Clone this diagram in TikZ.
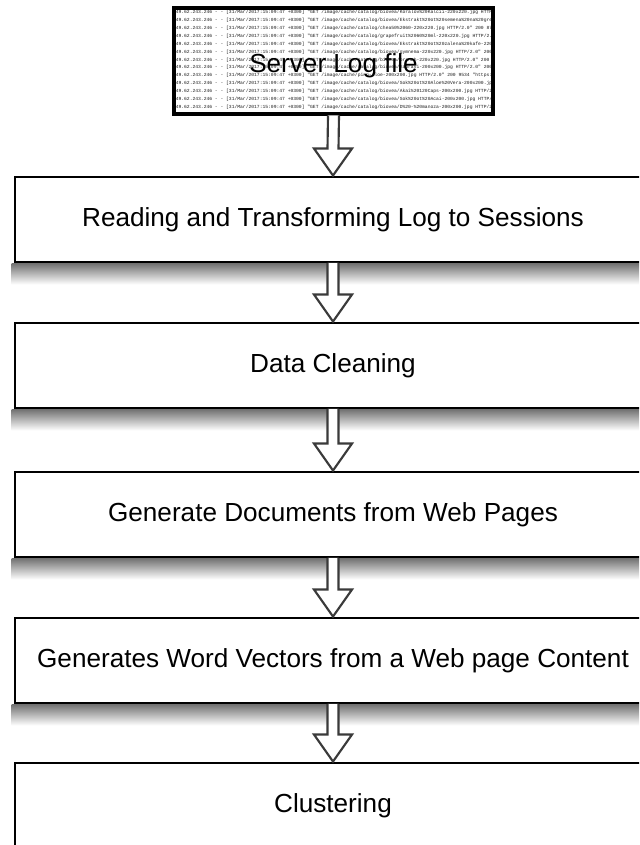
\documentclass[tikz,border=0pt]{standalone}
\usepackage{fontspec}
\setmainfont{Liberation Sans}
\setmonofont{Liberation Mono}
\usepackage{xcolor}
\usetikzlibrary{positioning,calc}

\definecolor{arrowgray}{HTML}{3A3A3A}
\definecolor{loggray}{HTML}{1E1E1E}

% shadow under a step box
\newcommand{\boxshadow}[1]{%
  \shade[top color=black!55,bottom color=white] ($(#1.south west)+(-2,0)$) rectangle ($(#1.south east)+(0,21)$);}
% hollow block arrow from one node to the next
\newcommand{\flowarrow}[2]{%
  \draw[blockarrow] ($(#1.south)+(-5.5,-0.5)$) -- ($(#2.north)+(-5.5,-27)$) -- ($(#2.north)+(-19,-27)$) -- (#2.north)
    -- ($(#2.north)+(19,-27)$) -- ($(#2.north)+(5.5,-27)$) -- ($(#1.south)+(5.5,-0.5)$);}

\begin{document}
\begin{tikzpicture}[x=0.75pt,y=-0.75pt,
    stepbox/.style={rectangle,draw,line width=2.2pt,fill=white,minimum width=477pt,minimum height=63.75pt,inner sep=0pt,font=\fontsize{19.6}{23}\selectfont},
    blockarrow/.style={draw=arrowgray,line width=1.6pt,fill=white,line join=miter}]
    \path[use as bounding box,clip] (0,0) rectangle (639,845);
    \fill[white] (0,0) rectangle (639,845);

    % Log excerpt
    \begin{scope}
        \clip (174,8) rectangle (493,114);
        \node[anchor=north west,inner sep=0pt,align=left,text=loggray,font=\fontsize{3.5}{5.93}\selectfont\ttfamily] (loglines) at (175.5,10) {%
49.62.243.246 - - [31/Mar/2017:15:09:47 +0300] "GET /image/cache/catalog/biovea/Koralov\%20Kalcii-220x220.jpg HTTP/2.0" 200\\
49.62.243.246 - - [31/Mar/2017:15:09:47 +0300] "GET /image/cache/catalog/biovea/Ekstrakt\%20ot\%20semena\%20na\%20greipfrut\\
49.62.243.246 - - [31/Mar/2017:15:09:47 +0300] "GET /image/cache/catalog/chea50\%2060-220x220.jpg HTTP/2.0" 200 8700 "https\\
49.62.243.246 - - [31/Mar/2017:15:09:47 +0300] "GET /image/cache/catalog/grapefruit\%2060\%20ml-220x220.jpg HTTP/2.0" 200\\
49.62.243.246 - - [31/Mar/2017:15:09:47 +0300] "GET /image/cache/catalog/biovea/Ekstrakt\%20ot\%20zalena\%20kafe-220x220.jpg\\
49.62.243.246 - - [31/Mar/2017:15:09:47 +0300] "GET /image/cache/catalog/biovea/gymnema-220x220.jpg HTTP/2.0" 200 9\\
49.62.243.246 - - [31/Mar/2017:15:09:47 +0300] "GET /image/cache/catalog/biovea/oranzh-220x220.jpg HTTP/2.0" 200 5757 "https\\
49.62.243.246 - - [31/Mar/2017:15:09:47 +0300] "GET /image/cache/catalog/biovea/zabravi-200x200.jpg HTTP/2.0" 200\\
49.62.243.246 - - [31/Mar/2017:15:09:47 +0300] "GET /image/cache/ping-aloe-200x200.jpg HTTP/2.0" 200 9534 "https://\\
49.62.243.246 - - [31/Mar/2017:15:09:47 +0300] "GET /image/cache/catalog/biovea/Sok\%20ot\%20Aloe\%20Vera-200x200.jpg HTTP/2.0\\
49.62.243.246 - - [31/Mar/2017:15:09:47 +0300] "GET /image/cache/catalog/biovea/Akai\%20120Caps-200x200.jpg HTTP/2.0"\\
49.62.243.246 - - [31/Mar/2017:15:09:47 +0300] "GET /image/cache/catalog/biovea/Sok\%20ot\%20Acai-200x200.jpg HTTP/2.0"\\
49.62.243.246 - - [31/Mar/2017:15:09:47 +0300] "GET /image/cache/catalog/biovea/D\%20-\%20manoza-200x200.jpg HTTP/2.0"};
    \end{scope}

    % Log file
    \node[rectangle,draw,line width=3pt,minimum width=239.25pt,minimum height=79.5pt,inner sep=0pt,text height=21.8pt,text depth=4.2pt,font=\fontsize{19.6}{23}\selectfont] (logfile) at (333.5,61) {Server Log file};

    % Steps
    \node[stepbox] (reading) at (333,219.5) {Reading and Transforming Log to Sessions};
    \node[stepbox] (cleaning) at (333,365.5) {Data Cleaning};
    \node[stepbox] (documents) at (333,514.5) {Generate Documents from Web Pages};
    \node[stepbox] (vectors) at (333,660.5) {Generates Word Vectors from a Web page Content};
    \node[stepbox] (clustering) at (333,805.5) {Clustering};

    % Shadows
    \foreach \n in {reading,cleaning,documents,vectors}
        \boxshadow{\n};

    % Arrows
    \flowarrow{logfile}{reading}
    \flowarrow{reading}{cleaning}
    \flowarrow{cleaning}{documents}
    \flowarrow{documents}{vectors}
    \flowarrow{vectors}{clustering}
\end{tikzpicture}
\end{document}
